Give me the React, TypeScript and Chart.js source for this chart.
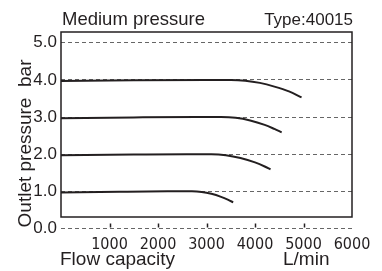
import React, { useEffect, useRef } from "react";
import { Chart, registerables } from "chart.js";

Chart.register(...registerables);

const titleText = "Medium pressure";
const typeText = "Type:40015";
const yTitle = "Outlet pressure  bar";
const xTitle = "Flow capacity";
const xUnit = "L/min";

const xTicks = [1000, 2000, 3000, 4000, 5000, 6000];
const xTickMarks = [1000, 2000, 3000, 4000, 5000];
const yTicks = [0, 1, 2, 3, 4, 5];

const flow4 = [0, 1500, 3000, 3500, 3800, 4100, 4400, 4700, 4960];
const p4 = [3.97, 3.99, 4.0, 4.0, 3.98, 3.92, 3.82, 3.69, 3.53];
const flow3 = [0, 1500, 2800, 3300, 3600, 3900, 4200, 4400, 4550];
const p3 = [2.97, 2.99, 3.0, 3.0, 2.98, 2.91, 2.79, 2.68, 2.59];
const flow2 = [0, 1500, 2600, 3100, 3400, 3700, 4000, 4200, 4320];
const p2 = [1.97, 1.99, 2.0, 2.0, 1.975, 1.9, 1.78, 1.67, 1.59];
const flow1 = [0, 1200, 2200, 2700, 2900, 3100, 3300, 3450, 3550];
const p1 = [0.97, 0.99, 1.0, 1.0, 0.984, 0.935, 0.853, 0.77, 0.705];

const INK = "#231f20";
const SANS = "'Liberation Sans', Arial, sans-serif";
const NARROW = "'Liberation Sans Narrow', 'Arial Narrow', 'DejaVu Sans Condensed', sans-serif";

const toPts = (xs: number[], ys: number[]) => xs.map((x, i) => ({ x, y: ys[i] }));

const decorPlugin = {
  id: "decor",
  afterDraw(chart: any) {
    const { ctx, chartArea } = chart;
    const { left, right, top, bottom } = chartArea;
    const xs = chart.scales.x;
    ctx.save();
    ctx.strokeStyle = INK;
    ctx.lineWidth = 1.5;
    ctx.strokeRect(left, top, right - left, bottom - top);

    ctx.lineWidth = 1.5;
    for (const v of xTickMarks) {
      const px = Math.round(xs.getPixelForValue(v)) + 0.5;
      ctx.beginPath();
      ctx.moveTo(px, bottom + 6.5);
      ctx.lineTo(px, bottom + 10.5);
      ctx.stroke();
    }

    ctx.fillStyle = INK;
    ctx.textBaseline = "alphabetic";
    ctx.font = `18.5px ${SANS}`;
    ctx.textAlign = "left";
    ctx.fillText(titleText, left + 1, 25);
    ctx.font = `17px ${SANS}`;
    ctx.textAlign = "right";
    ctx.fillText(typeText, right + 1, 25);

    ctx.font = `19px ${SANS}`;
    ctx.textAlign = "left";
    ctx.fillText(xTitle, left - 1, 265);
    ctx.fillText(xUnit, 283, 265);

    ctx.translate(31, 143.5);
    ctx.rotate(-Math.PI / 2);
    ctx.textAlign = "center";
    ctx.fillText(yTitle, 0, 0);
    ctx.restore();
  },
};

export default function App() {
  const ref = useRef<HTMLCanvasElement | null>(null);
  useEffect(() => {
    if (!ref.current) return;
    const line = (xs: number[], ys: number[]) => ({
      data: toPts(xs, ys),
      borderColor: INK,
      borderWidth: 2,
      pointRadius: 0,
      fill: false,
      cubicInterpolationMode: "monotone" as const,
    });
    const chart = new Chart(ref.current, {
      type: "line",
      data: {
        datasets: [line(flow4, p4), line(flow3, p3), line(flow2, p2), line(flow1, p1)],
      },
      options: {
        responsive: false,
        animation: false,
        devicePixelRatio: 1,
        layout: { padding: { top: 32, right: 30, left: 0, bottom: 0 } },
        plugins: { legend: { display: false }, tooltip: { enabled: false }, title: { display: false } },
        scales: {
          x: {
            type: "linear",
            min: 0,
            max: 6000,
            afterBuildTicks: (s: any) => {
              s.ticks = xTicks.map((v) => ({ value: v }));
            },
            afterFit: (s: any) => {
              s.height = 54;
            },
            border: { display: false },
            grid: {
              drawOnChartArea: false,
              drawTicks: true,
              tickLength: 11,
              tickColor: "rgba(0,0,0,0)",
            },
            ticks: {
              color: INK,
              padding: 7,
              maxRotation: 0,
              autoSkip: false,
              font: { family: NARROW, size: 16 },
              callback: (v: any) => String(v),
            },
          },
          y: {
            type: "linear",
            min: 0.31,
            max: 5.29,
            afterBuildTicks: (s: any) => {
              s.ticks = yTicks.map((v) => ({ value: v }));
            },
            afterFit: (s: any) => {
              s.width = 61;
            },
            border: { display: false, dash: [4, 3] },
            grid: {
              drawTicks: false,
              color: "#666",
              lineWidth: 1,
            },
            ticks: {
              color: INK,
              padding: 4,
              autoSkip: false,
              font: { family: SANS, size: 17 },
              callback: (v: any) => Number(v).toFixed(1),
            },
          },
        },
      },
      plugins: [decorPlugin],
    });
    return () => chart.destroy();
  }, []);
  return (
    <div style={{ position: "fixed", left: 0, top: 0, width: 382, height: 271, background: "#fff" }}>
      <canvas ref={ref} width={382} height={271} style={{ display: "block" }} />
    </div>
  );
}
